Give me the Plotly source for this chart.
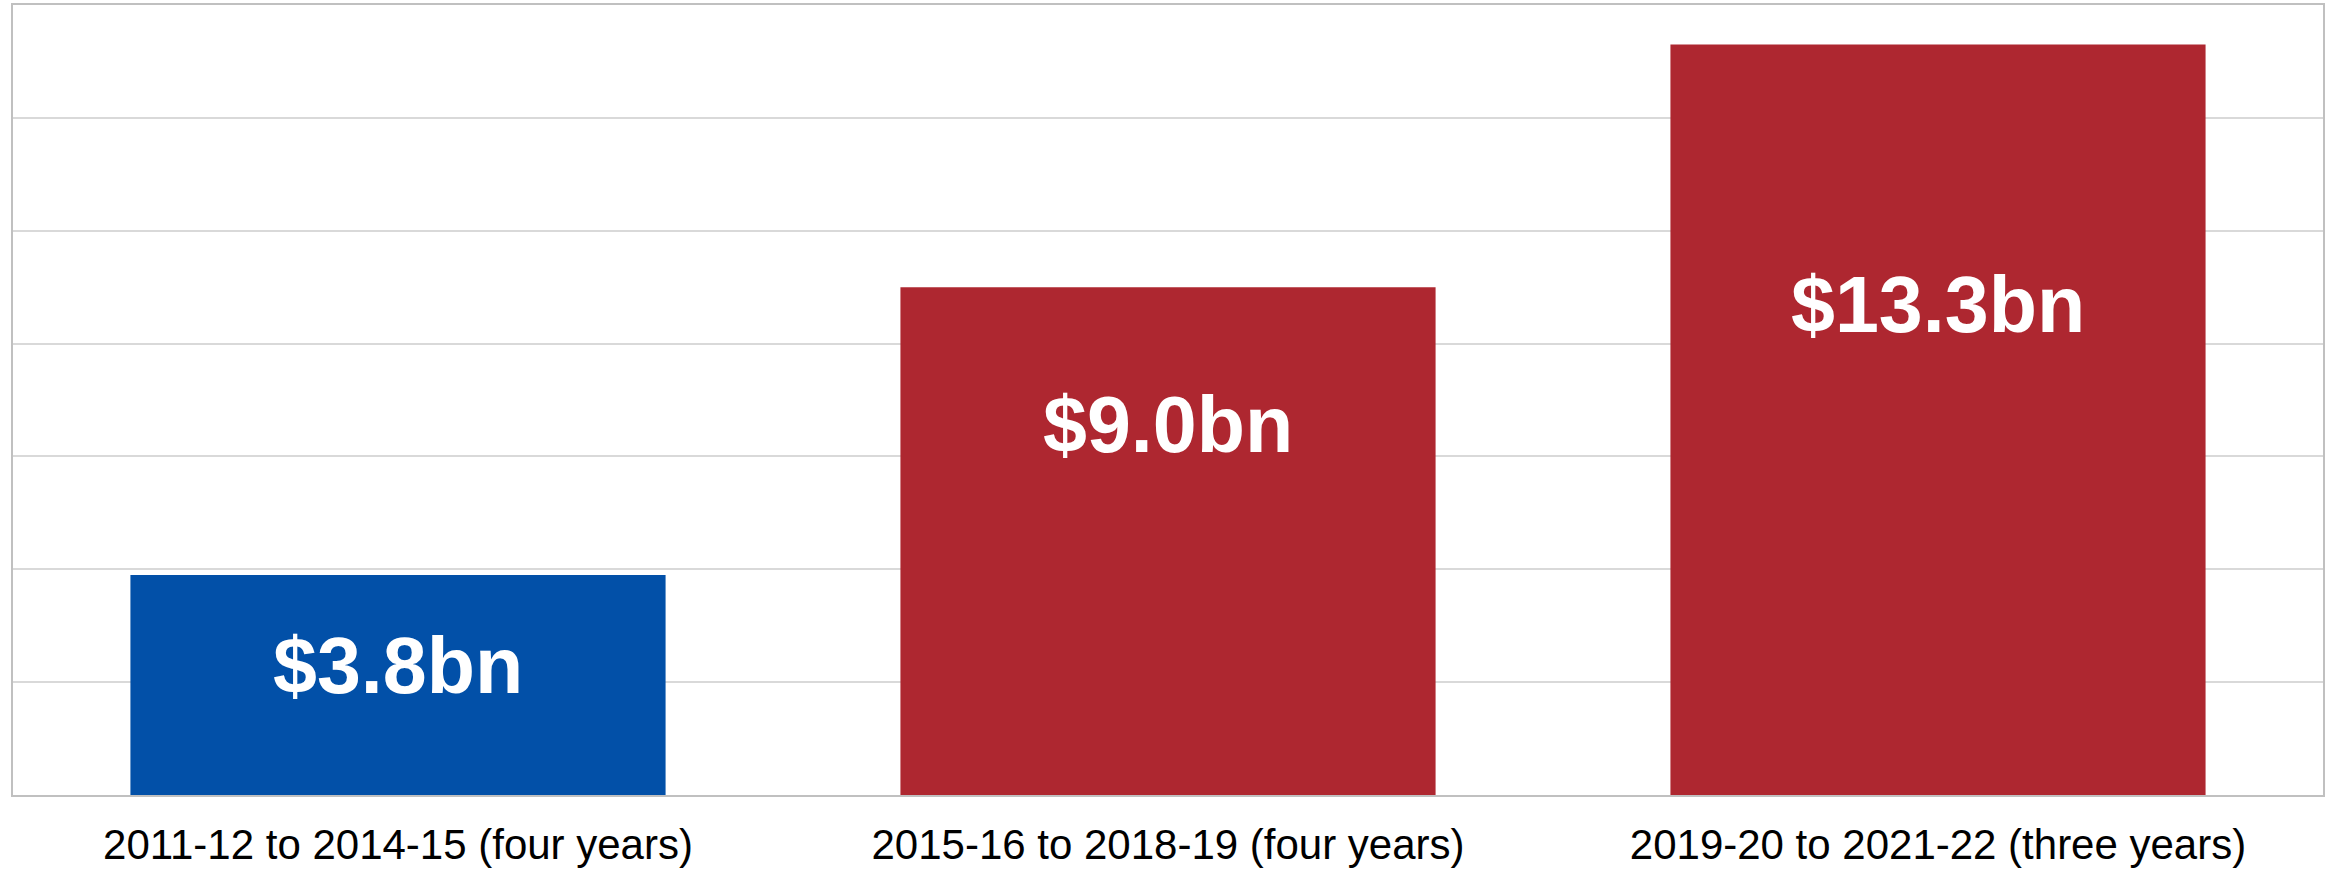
import plotly.graph_objects as go

categories = ["2011-12 to 2014-15 (four years)",
              "2015-16 to 2018-19 (four years)",
              "2019-20 to 2021-22 (three years)"]
values = [3.9, 9.0, 13.3]
value_labels = ["$3.8bn", "$9.0bn", "$13.3bn"]
label_y = [2.30, 6.57, 8.69]
bar_colors = ["#0250A8", "#AE2730", "#AE2730"]

fig = go.Figure()
fig.add_trace(go.Bar(
    x=categories, y=values,
    marker=dict(color=bar_colors, line=dict(width=0)),
    hoverinfo="skip",
))

for c, t, ly in zip(categories, value_labels, label_y):
    fig.add_annotation(
        x=c, y=ly, text=t, showarrow=False,
        xanchor="center", yanchor="middle",
        font=dict(family="Liberation Sans, Arial, sans-serif", size=79, color="white", weight="bold"),
    )

fig.update_layout(
    width=2329, height=870,
    margin=dict(l=13, r=6, t=5, b=75, pad=0, autoexpand=False),
    paper_bgcolor="white", plot_bgcolor="white",
    bargap=0.305,
    showlegend=False,
    font=dict(family="Liberation Sans, Arial, sans-serif", color="black"),
)
fig.update_xaxes(
    showline=True, mirror=True, linecolor="#c0c0c0", linewidth=2,
    showgrid=False, ticks="", automargin=False,
    tickfont=dict(size=42, color="black"),
    ticklabelstandoff=12,
)
fig.update_yaxes(
    range=[0, 14], dtick=2, automargin=False,
    showline=True, mirror=True, linecolor="#c0c0c0", linewidth=2,
    showgrid=True, gridcolor="#d9d9d9", gridwidth=2,
    showticklabels=False, ticks="", zeroline=False,
)

fig.write_html("out.html", config={"displayModeBar": False},
               post_script="document.body.style.margin='0';")
